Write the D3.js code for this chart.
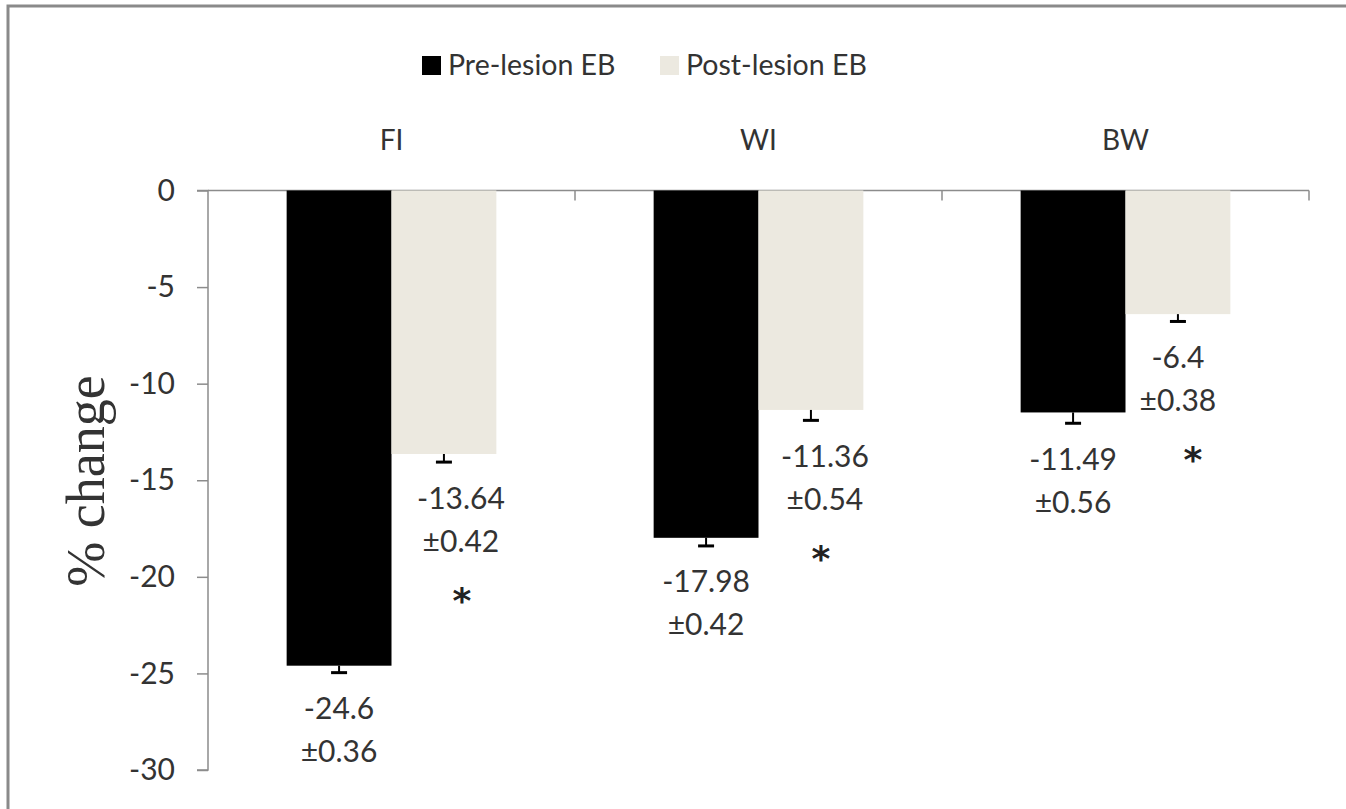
<!DOCTYPE html>
<html>
<head>
<meta charset="utf-8">
<script src="https://cdn.jsdelivr.net/npm/d3@7"></script>
<style>
  html, body { margin: 0; padding: 0; background: #fff; }
  svg { display: block; }
</style>
</head>
<body>
<svg id="chart" width="1346" height="809"></svg>
<script>
const categories = ["FI", "WI", "BW"];
const seriesNames = ["Pre-lesion EB", "Post-lesion EB"];
const preValues = [-24.6, -17.98, -11.49];
const postValues = [-13.64, -11.36, -6.4];
const preErrors = [0.36, 0.42, 0.56];
const postErrors = [0.42, 0.54, 0.38];
const postSignificant = [true, true, true];
const yTicks = [0, -5, -10, -15, -20, -25, -30];
const yLabel = "% change";

// label placement nudges (layout only, in px)
const postLabelNudge = [17, 14, 0];
const starNudge = [18, 10, 15];

const colors = ["#000000", "#ECE9E0"];
const textColor = "#333333";
const axisColor = "#8c8c8c";
const font = "Lato, 'Open Sans', sans-serif";

const svg = d3.select("#chart");

// outer border
svg.append("rect")
  .attr("x", 8).attr("y", 6)
  .attr("width", 1400).attr("height", 900)
  .attr("fill", "none").attr("stroke", "#8a8a8a").attr("stroke-width", 3);

const plotLeft = 208, plotRight = 1309, plotTop = 190.5, plotBottom = 770;

const y = d3.scaleLinear().domain([-30, 0]).range([plotBottom, plotTop]);
const x0 = d3.scaleBand().domain(categories).range([plotLeft, plotRight]).paddingInner(0).paddingOuter(0);
const x1 = d3.scaleBand().domain(seriesNames).range([0, x0.bandwidth()]).paddingInner(0).paddingOuter(0.75);

// y axis
const yAxis = d3.axisLeft(y).tickValues(yTicks).tickSize(11).tickPadding(22).tickFormat(d => String(d));
const gy = svg.append("g").attr("transform", `translate(${plotLeft},0)`).call(yAxis);
gy.select(".domain").attr("stroke", axisColor).attr("stroke-width", 1.5).attr("d", `M-11,${plotBottom}H0V${plotTop}H-11`);
gy.selectAll(".tick line").attr("stroke", axisColor).attr("stroke-width", 1.5);
gy.selectAll(".tick text").attr("fill", textColor).style("font-family", font).style("font-size", "30px");

// x axis (at zero line, category boundary ticks down)
const boundaries = categories.map(c => x0(c)).concat([plotRight]);
const gx = svg.append("g");
gx.append("line").attr("x1", plotLeft).attr("x2", plotRight).attr("y1", y(0)).attr("y2", y(0))
  .attr("stroke", axisColor).attr("stroke-width", 1.5);
gx.selectAll("line.bt").data(boundaries.slice(1)).join("line").attr("class", "bt")
  .attr("x1", d => d).attr("x2", d => d).attr("y1", y(0)).attr("y2", y(0) + 10)
  .attr("stroke", axisColor).attr("stroke-width", 1.5);

// category labels at top
svg.selectAll("text.cat").data(categories).join("text").attr("class", "cat")
  .attr("x", d => x0(d) + x0.bandwidth() / 2).attr("y", 150)
  .attr("text-anchor", "middle").attr("fill", textColor)
  .style("font-family", font).style("font-size", "28px").text(d => d);

// data rows
const rows = [];
categories.forEach((c, i) => {
  rows.push({cat: c, s: seriesNames[0], v: preValues[i], e: preErrors[i], sig: false, color: colors[0], dx: 0, sdx: 0});
  rows.push({cat: c, s: seriesNames[1], v: postValues[i], e: postErrors[i], sig: postSignificant[i], color: colors[1], dx: postLabelNudge[i], sdx: starNudge[i]});
});

const g = svg.append("g");
g.selectAll("rect.bar").data(rows).join("rect").attr("class", "bar")
  .attr("x", d => x0(d.cat) + x1(d.s))
  .attr("y", y(0))
  .attr("width", x1.bandwidth())
  .attr("height", d => y(d.v) - y(0))
  .attr("fill", d => d.color);

// error bars (negative direction only)
const cx = d => x0(d.cat) + x1(d.s) + x1.bandwidth() / 2;
g.selectAll("line.err").data(rows).join("line").attr("class", "err")
  .attr("x1", cx).attr("x2", cx)
  .attr("y1", d => y(d.v)).attr("y2", d => y(d.v - d.e))
  .attr("stroke", "#000").attr("stroke-width", 2);
g.selectAll("line.cap").data(rows).join("line").attr("class", "cap")
  .attr("x1", d => cx(d) - 8).attr("x2", d => cx(d) + 8)
  .attr("y1", d => y(d.v - d.e)).attr("y2", d => y(d.v - d.e))
  .attr("stroke", "#000").attr("stroke-width", 3);

// value labels
const lab = g.selectAll("g.lab").data(rows).join("g").attr("class", "lab");
lab.append("text").attr("x", d => cx(d) + d.dx).attr("y", d => y(d.v - d.e) + 46.5)
  .attr("text-anchor", "middle").attr("fill", textColor)
  .style("font-family", font).style("font-size", "30px")
  .text(d => String(d.v));
lab.append("text").attr("x", d => cx(d) + d.dx).attr("y", d => y(d.v - d.e) + 89.5)
  .attr("text-anchor", "middle").attr("fill", textColor)
  .style("font-family", font).style("font-size", "30px")
  .text(d => "±" + d.e.toFixed(2));
lab.filter(d => d.sig).append("text").attr("x", d => cx(d) + d.sdx).attr("y", d => y(d.v - d.e) + 151)
  .attr("text-anchor", "middle").attr("fill", "#222")
  .style("font-family", "'DejaVu Sans', sans-serif").style("font-size", "36px").style("font-weight", "bold")
  .text("*");

// y label
svg.append("text")
  .attr("transform", "translate(104,481) rotate(-90)")
  .attr("text-anchor", "middle").attr("fill", textColor)
  .style("font-family", "'Liberation Serif', 'DejaVu Serif', serif").style("font-size", "54px")
  .text(yLabel);

// legend
const legendItems = [{name: seriesNames[0], color: colors[0], x: 422}, {name: seriesNames[1], color: colors[1], x: 660}];
const lg = svg.selectAll("g.leg").data(legendItems).join("g").attr("class", "leg")
  .attr("transform", d => `translate(${d.x},56)`);
lg.append("rect").attr("width", 19).attr("height", 19).attr("fill", d => d.color);
lg.append("text").attr("x", 26).attr("y", 19).attr("fill", textColor)
  .style("font-family", font).style("font-size", "28.5px").text(d => d.name);
</script>
</body>
</html>
